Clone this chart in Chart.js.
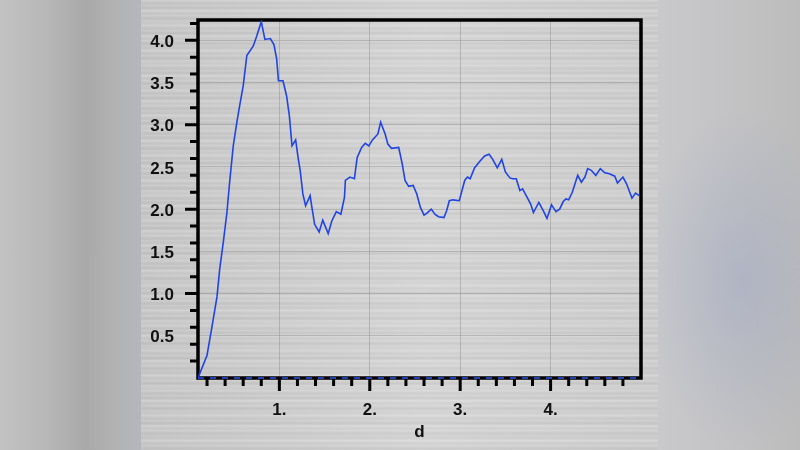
<!DOCTYPE html>
<html lang="en">
<head>
  <meta charset="UTF-8">
  <title>g(d)</title>
  <script src="https://cdn.jsdelivr.net/npm/chart.js"></script>
  <style>
    html, body { margin: 0; padding: 0; }
    body {
      width: 800px; height: 450px; overflow: hidden; position: relative;
      background:
        radial-gradient(ellipse 100px 170px at 740px 280px, rgba(150,160,195,0.4), rgba(150,160,195,0) 100%),
        linear-gradient(90deg, #c2c2c2 0px, #b8b8b8 45px, #a9a9a9 85px, #b2b2b2 115px, #b4b6bd 138px,
                        #c9c9cb 660px, #c4c4c6 720px, #bcbcbc 800px);
    }
    .panel {
      position: absolute; left: 141px; top: 0; width: 517px; height: 450px;
      background:
        repeating-linear-gradient(180deg, rgba(255,255,255,0.12) 0px, rgba(255,255,255,0) 2px, rgba(0,0,0,0.03) 3px, rgba(255,255,255,0) 5px),
        repeating-linear-gradient(180deg, rgba(0,0,0,0) 0px, rgba(0,0,0,0.03) 7px, rgba(255,255,255,0.08) 11px, rgba(0,0,0,0) 13px),
        linear-gradient(90deg, #c9c9c9 0%, #d2d2d2 35%, #d7d7d7 55%, #cfcfcf 100%);
    }
    #chart { position: absolute; left: 141px; top: 0; }
  </style>
</head>
<body>
<div class="panel"></div>
<canvas id="chart" width="517" height="450"></canvas>

<script>
// curve
const dValues = [0.10, 0.20, 0.25, 0.31, 0.34, 0.38, 0.42, 0.45, 0.49, 0.53, 0.56, 0.60, 0.64, 0.71, 0.75, 0.80,
  0.84, 0.90, 0.94, 0.97, 0.99, 1.04, 1.08, 1.11, 1.14, 1.18, 1.21, 1.23, 1.26, 1.29, 1.34, 1.36, 1.39, 1.44,
  1.48, 1.54, 1.58, 1.63, 1.68, 1.72, 1.73, 1.78, 1.83, 1.86, 1.91, 1.95, 1.99, 2.03, 2.09, 2.12, 2.17, 2.20,
  2.24, 2.32, 2.36, 2.39, 2.43, 2.48, 2.52, 2.56, 2.60, 2.63, 2.68, 2.72, 2.76, 2.82, 2.85, 2.88, 2.92, 2.99,
  3.02, 3.05, 3.08, 3.11, 3.16, 3.22, 3.27, 3.32, 3.36, 3.41, 3.46, 3.50, 3.55, 3.58, 3.62, 3.66, 3.69, 3.73,
  3.78, 3.81, 3.87, 3.92, 3.96, 4.01, 4.06, 4.10, 4.14, 4.17, 4.20, 4.24, 4.27, 4.30, 4.34, 4.38, 4.41, 4.45,
  4.50, 4.55, 4.60, 4.65, 4.71, 4.74, 4.80, 4.84, 4.90, 4.94, 4.98];
const gValues = [0.00, 0.27, 0.58, 0.96, 1.29, 1.61, 1.96, 2.32, 2.75, 3.03, 3.22, 3.46, 3.82, 3.93, 4.05, 4.22,
  4.01, 4.02, 3.95, 3.78, 3.52, 3.52, 3.34, 3.11, 2.75, 2.82, 2.59, 2.46, 2.18, 2.04, 2.16, 2.02, 1.82, 1.73,
  1.87, 1.71, 1.86, 1.97, 1.94, 2.14, 2.34, 2.38, 2.36, 2.61, 2.73, 2.78, 2.75, 2.82, 2.89, 3.03, 2.89, 2.77,
  2.72, 2.73, 2.53, 2.34, 2.27, 2.28, 2.18, 2.02, 1.93, 1.95, 2.00, 1.94, 1.91, 1.90, 1.98, 2.10, 2.11, 2.10,
  2.22, 2.34, 2.38, 2.36, 2.49, 2.57, 2.63, 2.65, 2.59, 2.49, 2.59, 2.44, 2.37, 2.36, 2.36, 2.22, 2.24, 2.16,
  2.06, 1.96, 2.08, 1.98, 1.89, 2.05, 1.97, 2.00, 2.09, 2.12, 2.11, 2.20, 2.30, 2.40, 2.32, 2.38, 2.48, 2.46,
  2.40, 2.48, 2.43, 2.42, 2.39, 2.31, 2.38, 2.30, 2.13, 2.19, 2.16];

// dashed zero line along the bottom axis
const zeroD = [0.1, 5.0];
const zeroG = [0, 0];

// axis tick marks
const xMajorTicks = [1, 2, 3, 4];
const xMinorTicks = [0.2, 0.4, 0.6, 0.8, 1.2, 1.4, 1.6, 1.8, 2.2, 2.4, 2.6, 2.8, 3.2, 3.4, 3.6, 3.8, 4.2, 4.4, 4.6, 4.8];
const yMajorTicks = [1, 2, 3, 4];
const yMinorTicks = [0.2, 0.4, 0.6, 0.8, 1.2, 1.4, 1.6, 1.8, 2.2, 2.4, 2.6, 2.8, 3.2, 3.4, 3.6, 3.8, 4.2];

const toPoints = (xs, ys) => xs.map((x, i) => ({x: x, y: ys[i]}));

const labelFont = {family: "'Liberation Sans', Arial, sans-serif", size: 17, weight: 'bold'};

const framePlugin = {
  id: 'frame',
  beforeDatasetsDraw(chart) {
    const {ctx, chartArea: a, scales: {x, y}} = chart;
    ctx.save();
    ctx.strokeStyle = '#000';
    ctx.lineWidth = 3;
    ctx.beginPath();
    xMinorTicks.forEach(v => { const p = x.getPixelForValue(v); ctx.moveTo(p, a.bottom); ctx.lineTo(p, a.bottom + 8); });
    xMajorTicks.forEach(v => { const p = x.getPixelForValue(v); ctx.moveTo(p, a.bottom); ctx.lineTo(p, a.bottom + 13); });
    yMinorTicks.forEach(v => { const p = y.getPixelForValue(v); ctx.moveTo(a.left, p); ctx.lineTo(a.left - 8, p); });
    yMajorTicks.forEach(v => { const p = y.getPixelForValue(v); ctx.moveTo(a.left, p); ctx.lineTo(a.left - 13, p); });
    ctx.stroke();
    ctx.lineWidth = 3.5;
    ctx.strokeRect(a.left, a.top, a.right - a.left, a.bottom - a.top);
    ctx.restore();
  }
};

new Chart(document.getElementById('chart'), {
  type: 'scatter',
  data: {
    datasets: [{
      data: toPoints(dValues, gValues),
      showLine: true,
      borderColor: '#1f44e4',
      borderWidth: 1.6,
      pointRadius: 0,
      tension: 0
    }, {
      data: toPoints(zeroD, zeroG),
      showLine: true,
      borderColor: '#2a55f0',
      borderWidth: 1.5,
      borderDash: [6, 6],
      pointRadius: 0,
      clip: false
    }]
  },
  plugins: [framePlugin],
  options: {
    responsive: false,
    animation: false,
    layout: {padding: {top: 20, right: 17, left: 0, bottom: 0}},
    plugins: {legend: {display: false}, tooltip: {enabled: false}},
    scales: {
      x: {
        type: 'linear', min: 0.1, max: 5.0,
        afterFit(s) { s.height = 72; s.paddingLeft = 0; s.paddingRight = 0; },
        border: {display: false},
        grid: {color: 'rgba(140,140,140,0.45)', lineWidth: 1, drawTicks: false},
        ticks: {
          stepSize: 1, includeBounds: false, padding: 22, color: '#111', font: labelFont,
          callback: v => v < 5 ? v + '.' : ''
        },
        title: {display: true, text: 'd', color: '#111', font: labelFont, padding: {top: 0, bottom: 7}}
      },
      y: {
        type: 'linear', min: 0, max: 4.24,
        afterFit(s) { s.width = 57; s.paddingTop = 0; s.paddingBottom = 0; },
        border: {display: false},
        grid: {color: 'rgba(140,140,140,0.45)', lineWidth: 1, drawTicks: false},
        ticks: {
          stepSize: 0.5, includeBounds: false, padding: 24, labelOffset: 2, color: '#111', font: labelFont,
          callback: v => v === 0 ? '' : v.toFixed(1)
        }
      }
    }
  }
});
</script>
</body>
</html>
